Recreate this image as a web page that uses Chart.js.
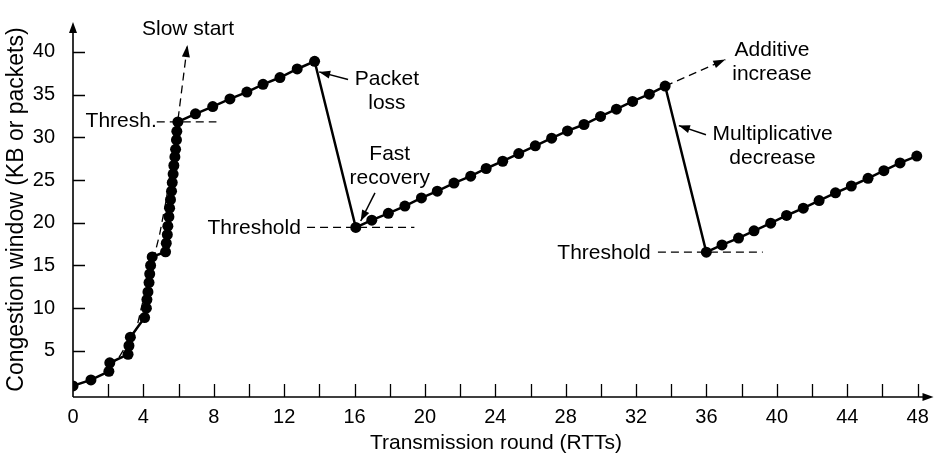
<!DOCTYPE html>
<html>
<head>
<meta charset="utf-8">
<script src="https://cdn.jsdelivr.net/npm/chart.js@4.4.1/dist/chart.umd.min.js"></script>
<style>
  html, body { margin: 0; padding: 0; background: #fff; }
  #wrap { width: 939px; height: 457px; position: relative; }
</style>
</head>
<body>
<div id="wrap"><canvas id="cwnd"></canvas></div>
<script>
// Congestion window per transmission round
const roundX = [
    0, 1.02, 2.04, 2.09, 3.13, 3.18, 3.26,
    4.07, 4.17, 4.2, 4.26, 4.32, 4.36, 4.41, 4.5,
    5.26, 5.3, 5.36, 5.39, 5.45, 5.49, 5.54, 5.6, 5.64, 5.69, 5.73, 5.79, 5.83, 5.88, 5.9, 5.96,
    6.96, 7.94, 8.92, 9.88, 10.8, 11.76, 12.74, 13.73,
    16.07, 16.98, 17.92, 18.86, 19.8, 20.7, 21.65, 22.6, 23.48, 24.42, 25.33, 26.27, 27.2, 28.1, 29.04, 29.98, 30.88, 31.8, 32.75, 33.65,
    35.99, 36.88, 37.82, 38.7, 39.65, 40.55, 41.5, 42.4, 43.33, 44.23, 45.18, 46.08, 47.0, 47.95
];
const cwndY = [
    0.9, 1.6, 2.6, 3.6, 4.6, 5.6, 6.6,
    8.9, 10.0, 11.0, 11.9, 13.0, 14.0, 15.0, 16.0,
    16.6, 17.6, 18.6, 19.6, 20.7, 21.7, 22.7, 23.7, 24.7, 25.7, 26.7, 27.7, 28.6, 29.7, 30.7, 31.8,
    32.75, 33.6, 34.5, 35.3, 36.2, 37.0, 38.0, 38.9,
    19.45, 20.3, 21.1, 21.95, 22.9, 23.7, 24.65, 25.45, 26.35, 27.2, 28.1, 29.0, 29.9, 30.75, 31.5, 32.45, 33.3, 34.2, 35.05, 36.0,
    16.55, 17.4, 18.2, 19.05, 19.95, 20.85, 21.7, 22.6, 23.5, 24.3, 25.2, 26.1, 27.0, 27.8
];

// dashed guide curves
const slowStartX = [2.1, 2.66, 3.61, 3.89, 4.93, 5.3, 5.95, 6.5];
const slowStartY = [3.2, 4.4, 7.6, 10.1, 18.7, 22.7, 31.8, 40.8];
const additiveX = [33.65, 37.07];
const additiveY = [36.0, 39.1];

// threshold dashes: [xFrom, xTo, y]
const thresholds = [[4.76, 8.15, 31.8], [13.3, 19.4, 19.45], [33.24, 39.2, 16.55]];

// tick values
const xTicks = [0, 2, 4, 6, 8, 10, 12, 14, 16, 18, 20, 22, 24, 26, 28, 30, 32, 34, 36, 38, 40, 42, 44, 46, 48];
const yTicks = [5, 10, 15, 20, 25, 30, 35, 40];

// annotations (data coords)
const labels = [
    { text: ['Slow start'], x: 6.54, y: 42.7, align: 'center' },
    { text: ['Thresh.'], x: 4.76, y: 31.9, align: 'right' },
    { text: ['Packet', 'loss'], x: 17.84, y: 36.86, align: 'center' },
    { text: ['Fast', 'recovery'], x: 18.0, y: 28.06, align: 'center' },
    { text: ['Threshold'], x: 12.95, y: 19.37, align: 'right' },
    { text: ['Additive', 'increase'], x: 39.72, y: 40.17, align: 'center' },
    { text: ['Multiplicative', 'decrease'], x: 39.75, y: 30.34, align: 'center' },
    { text: ['Threshold'], x: 32.83, y: 16.48, align: 'right' }
];
// pointer arrows: [fromX, fromY, toX, toY]
const pointers = [[15.63, 36.78, 13.99, 37.66], [17.16, 23.49, 16.35, 20.2], [35.97, 30.31, 34.43, 31.37]];

const FONT = '"Liberation Sans", Arial, Helvetica, sans-serif';

const arrowHead = (ctx, x0, y0, x1, y1, len, half) => {
    const a = Math.atan2(y1 - y0, x1 - x0);
    ctx.beginPath();
    ctx.moveTo(x1, y1);
    ctx.lineTo(x1 - len * Math.cos(a) + half * Math.sin(a), y1 - len * Math.sin(a) - half * Math.cos(a));
    ctx.lineTo(x1 - len * Math.cos(a) - half * Math.sin(a), y1 - len * Math.sin(a) + half * Math.cos(a));
    ctx.closePath();
    ctx.fill();
};

const extras = {
    id: 'extras',
    afterDraw(chart) {
        const { ctx, chartArea: area, scales: { x, y } } = chart;
        ctx.save();
        ctx.strokeStyle = '#000';
        ctx.fillStyle = '#000';

        // axes with arrows
        ctx.lineWidth = 1.6;
        ctx.beginPath();
        ctx.moveTo(area.left, area.bottom);
        ctx.lineTo(area.right - 6, area.bottom);
        ctx.moveTo(area.left, area.bottom);
        ctx.lineTo(area.left, area.top + 6);
        ctx.stroke();
        arrowHead(ctx, area.left, area.bottom, area.right, area.bottom, 11, 4);
        arrowHead(ctx, area.left, area.bottom, area.left, area.top, 11, 4);

        // inward ticks
        ctx.lineWidth = 1.3;
        ctx.beginPath();
        xTicks.filter(v => v > 0).forEach(v => {
            const px = Math.round(x.getPixelForValue(v)) + 0.5;
            ctx.moveTo(px, area.bottom);
            ctx.lineTo(px, area.bottom - 13);
        });
        yTicks.forEach(v => {
            const py = Math.round(y.getPixelForValue(v)) + 0.5;
            ctx.moveTo(area.left, py);
            ctx.lineTo(area.left + 12, py);
        });
        ctx.stroke();

        // threshold dashes
        ctx.lineWidth = 1.3;
        ctx.setLineDash([8, 5]);
        ctx.beginPath();
        thresholds.forEach(([a, b, v]) => {
            ctx.moveTo(x.getPixelForValue(a), y.getPixelForValue(v));
            ctx.lineTo(x.getPixelForValue(b), y.getPixelForValue(v));
        });
        ctx.stroke();
        ctx.setLineDash([]);

        // heads of the dashed guides
        const n = slowStartX.length;
        arrowHead(ctx, x.getPixelForValue(slowStartX[n - 2]), y.getPixelForValue(slowStartY[n - 2]),
            x.getPixelForValue(slowStartX[n - 1]), y.getPixelForValue(slowStartY[n - 1]), 12, 4);
        arrowHead(ctx, x.getPixelForValue(additiveX[0]), y.getPixelForValue(additiveY[0]),
            x.getPixelForValue(additiveX[1]), y.getPixelForValue(additiveY[1]), 12, 4);

        // pointer arrows
        ctx.lineWidth = 1.5;
        pointers.forEach(([fx, fy, tx, ty]) => {
            const x0 = x.getPixelForValue(fx), y0 = y.getPixelForValue(fy);
            const x1 = x.getPixelForValue(tx), y1 = y.getPixelForValue(ty);
            ctx.beginPath();
            ctx.moveTo(x0, y0);
            ctx.lineTo(x1, y1);
            ctx.stroke();
            arrowHead(ctx, x0, y0, x1, y1, 11, 4);
        });

        // text labels
        ctx.font = '21px ' + FONT;
        ctx.textBaseline = 'middle';
        labels.forEach(l => {
            ctx.textAlign = l.align;
            l.text.forEach((t, i) => {
                ctx.fillText(t, x.getPixelForValue(l.x), y.getPixelForValue(l.y) + i * 24);
            });
        });

        // axis titles
        ctx.textAlign = 'center';
        ctx.fillText('Transmission round (RTTs)', 496, 443);
        ctx.font = '23px ' + FONT;
        ctx.translate(17, (area.top + area.bottom) / 2);
        ctx.rotate(-Math.PI / 2);
        ctx.fillText('Congestion window (KB or packets)', 0, 0);
        ctx.restore();
    }
};

Chart.defaults.font.family = FONT;
Chart.defaults.font.size = 20;
Chart.defaults.color = '#000';

new Chart(document.getElementById('cwnd'), {
    type: 'line',
    data: {
        datasets: [
            {
                data: roundX.map((v, i) => ({ x: v, y: cwndY[i] })),
                borderColor: '#000',
                backgroundColor: '#000',
                borderWidth: 2.5,
                pointRadius: 5.5,
                pointBorderWidth: 0,
                tension: 0,
                order: 0
            },
            {
                data: slowStartX.map((v, i) => ({ x: v, y: slowStartY[i] })),
                borderColor: '#000',
                borderWidth: 1.3,
                borderDash: [8, 5],
                pointRadius: 0,
                tension: 0,
                order: 1
            },
            {
                data: additiveX.map((v, i) => ({ x: v, y: additiveY[i] })),
                borderColor: '#000',
                borderWidth: 1.3,
                borderDash: [8, 5],
                pointRadius: 0,
                order: 1
            }
        ]
    },
    options: {
        responsive: true,
        maintainAspectRatio: false,
        animation: false,
        layout: { padding: { top: 12, right: 2, left: 0, bottom: 0 } },
        plugins: { legend: { display: false }, tooltip: { enabled: false } },
        scales: {
            x: {
                type: 'linear',
                min: 0,
                max: 48.9,
                grid: { display: false },
                border: { display: false },
                afterBuildTicks: s => { s.ticks = xTicks.map(v => ({ value: v })); },
                afterFit: s => { s.height = 60; },
                ticks: {
                    autoSkip: false,
                    maxRotation: 0,
                    padding: 0,
                    callback: v => (v % 4 === 0 ? String(v) : '')
                }
            },
            y: {
                type: 'linear',
                min: -0.4,
                max: 43.5,
                grid: { display: false },
                border: { display: false },
                afterBuildTicks: s => { s.ticks = yTicks.map(v => ({ value: v })); },
                afterFit: s => { s.width = 73; },
                ticks: { padding: 10 }
            }
        }
    },
    plugins: [extras]
});
</script>
</body>
</html>
